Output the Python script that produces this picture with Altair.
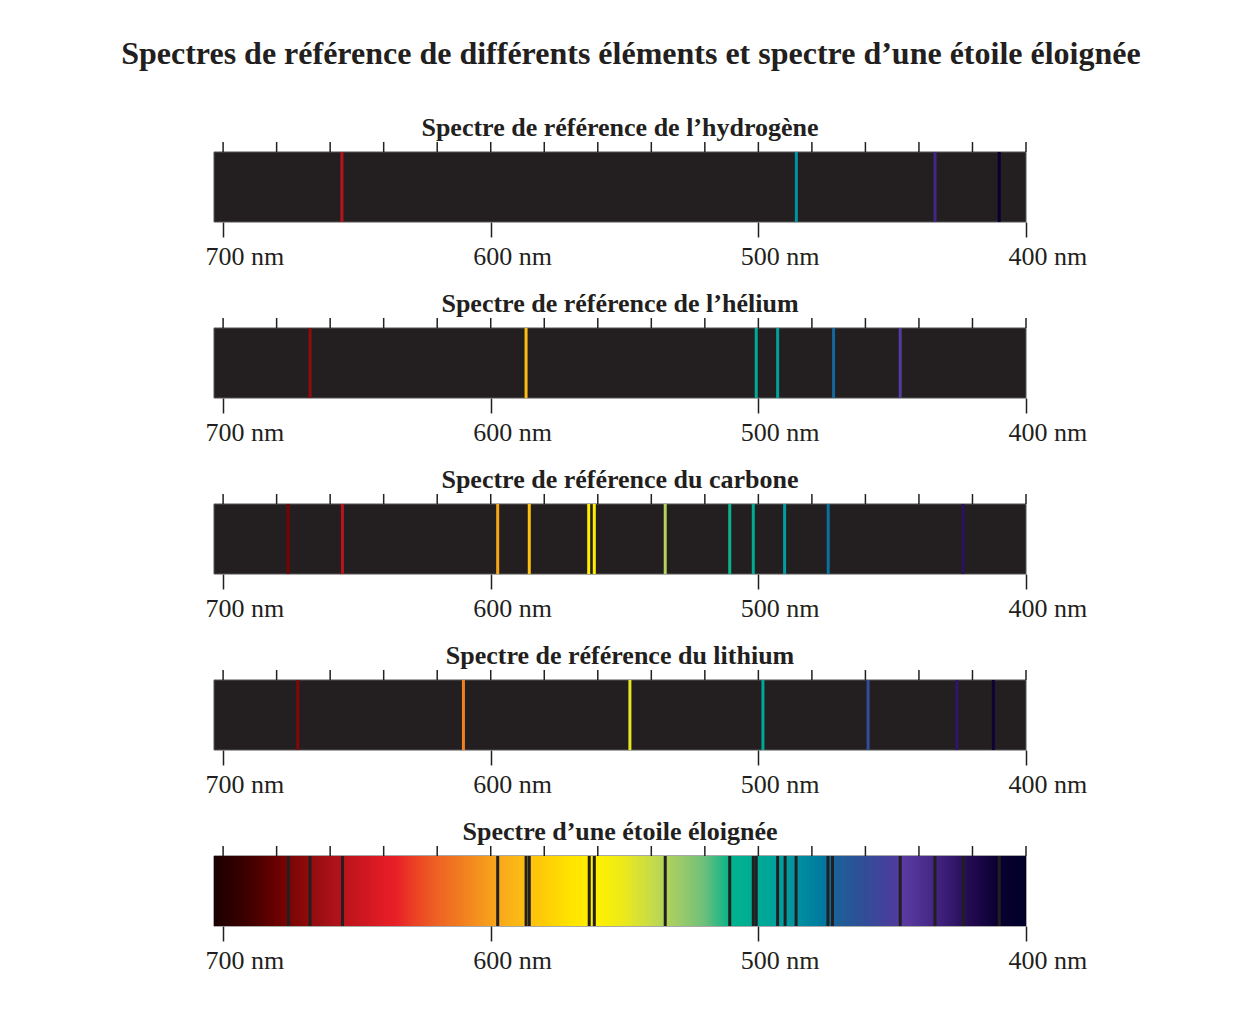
import altair as alt
import numpy as np
import pandas as pd

# ---------------- data ----------------
main_title = "Spectres de référence de différents éléments et spectre d’une étoile éloignée"
panel_titles = [
    "Spectre de référence de l’hydrogène",
    "Spectre de référence de l’hélium",
    "Spectre de référence du carbone",
    "Spectre de référence du lithium",
    "Spectre d’une étoile éloignée",
]

hydrogen_nm = [655.6, 485.8, 434.0, 410.0]
helium_nm = [667.5, 586.8, 500.8, 492.8, 471.9, 447.0]
carbon_nm = [675.7, 655.4, 597.4, 585.6, 563.4, 561.3, 534.8, 510.7, 501.9, 490.2, 473.9, 423.5]
lithium_nm = [672.1, 610.2, 548.0, 498.3, 459.0, 425.8, 412.2]
star_absorption_nm = [675.6, 667.5, 655.4, 597.4, 586.8, 585.6, 563.2, 561.3, 534.8,
                      510.7, 501.9, 500.8, 492.8, 490.0, 485.9, 474.0, 472.3, 447.0,
                      434.0, 423.4, 410.0]

spectrum_range_nm = [400, 703.4]
major_ticks_nm = [700, 600, 500, 400]
minor_ticks_nm = [400, 420, 440, 460, 480, 500, 520, 540, 560, 580, 600, 620, 640, 660, 680, 700]

# colour of visible light along the wavelength axis
palette_nm = [703.4, 690, 680, 670, 660, 650, 640, 635, 630, 620, 610, 600, 590, 580, 570,
              560, 550, 540, 530, 520, 510, 500, 490, 480, 475, 470, 460, 450, 445, 440,
              430, 420, 410, 400]
palette_hex = ["#1c0000", "#400000", "#6a0000", "#880a0a", "#a8121a", "#c8161e", "#e01c24",
               "#e82028", "#ea3a26", "#ee6224", "#f28020", "#f6a01c", "#fbb816", "#ffcc08",
               "#ffe400", "#fff000", "#ecea1c", "#c8dc48", "#a0cc68", "#6ec07a", "#00b48c",
               "#00aa96", "#009ea0", "#0084a0", "#0078a0", "#1e5e98", "#324e98", "#4a3e9c",
               "#5a3aa0", "#503294", "#3c1e78", "#220a50", "#0a0030", "#00002a"]

# ---------------- styles ----------------
FONT = "Liberation Serif"
INK = "#231f20"
W, H = 812, 70

xscale = alt.Scale(domain=spectrum_range_nm, reverse=True, nice=False, zero=False)
cscale = alt.Scale(domain=palette_nm, range=palette_hex, interpolate="rgb")

bottom_axis = alt.Axis(orient="bottom", values=major_ticks_nm, labelExpr="datum.value + ' nm'",
                       domain=False, grid=False, tickSize=15, tickWidth=1.5, tickColor=INK,
                       labelFont=FONT, labelFontSize=26, labelColor=INK, labelAlign="left",
                       labelOffset=-18, labelPadding=6, title=None)


def title_params(text):
    return alt.TitleParams(text, font=FONT, fontSize=26, fontWeight="bold", color=INK,
                           anchor="middle", offset=0)


def full_height():
    return dict(y=alt.value(0), y2=alt.value(H))


def background_layer(fill):
    rng = pd.DataFrame({"lo": [spectrum_range_nm[0]], "hi": [spectrum_range_nm[1]]})
    return alt.Chart(rng).mark_rect(color=fill, stroke="#555555", strokeWidth=1).encode(
        x=alt.X("lo:Q", scale=xscale, axis=bottom_axis), x2="hi:Q", **full_height())


def minor_tick_layer():
    ticks = pd.DataFrame({"wl": minor_ticks_nm})
    return alt.Chart(ticks).mark_rule(color=INK, strokeWidth=1.5).encode(
        x=alt.X("wl:Q", scale=xscale), y=alt.value(-10), y2=alt.value(0))


def emission_panel(title, lines):
    df = pd.DataFrame({"wl": lines})
    rules = alt.Chart(df).mark_rule(strokeWidth=3).encode(
        x=alt.X("wl:Q", scale=xscale),
        color=alt.Color("wl:Q", scale=cscale, legend=None), **full_height())
    return alt.layer(background_layer(INK), rules, minor_tick_layer()).properties(
        width=W, height=H, title=title_params(title))


def star_panel(title, lines):
    grid = pd.DataFrame({"wl": np.arange(spectrum_range_nm[0], spectrum_range_nm[1], 0.5)})
    grad = alt.Chart(grid).transform_calculate(wl2="datum.wl + 0.8").mark_rect(clip=True).encode(
        x=alt.X("wl:Q", scale=xscale),
        x2="wl2:Q",
        color=alt.Color("wl:Q", scale=cscale, legend=None), **full_height())
    df = pd.DataFrame({"wl": lines})
    rules = alt.Chart(df).mark_rule(strokeWidth=3, color=INK).encode(
        x=alt.X("wl:Q", scale=xscale), **full_height())
    return alt.layer(background_layer("#1c0000"), grad, rules, minor_tick_layer()).properties(
        width=W, height=H, title=title_params(title))


panels = [
    emission_panel(panel_titles[0], hydrogen_nm),
    emission_panel(panel_titles[1], helium_nm),
    emission_panel(panel_titles[2], carbon_nm),
    emission_panel(panel_titles[3], lithium_nm),
    star_panel(panel_titles[4], star_absorption_nm),
]

chart = alt.vconcat(*panels, spacing=22).properties(
    title=alt.TitleParams(main_title, font=FONT, fontSize=32, fontWeight="bold", color=INK,
                          anchor="middle", offset=44, dx=-15),
    padding={"left": 113, "top": 30, "right": 5, "bottom": 5},
    background="white",
).configure_view(stroke=None)

chart.save("out.html", embed_options={"renderer": "svg", "actions": False})
